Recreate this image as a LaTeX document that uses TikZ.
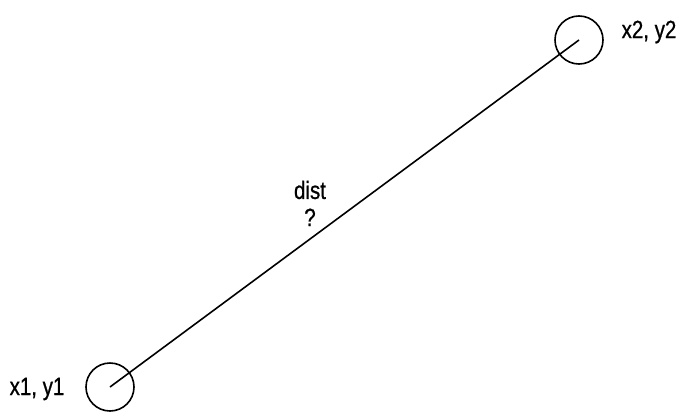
\documentclass[tikz,border=0pt]{standalone}
\usepackage{fontspec}
\setmainfont[FakeStretch=0.82, FakeBold=0.8]{Liberation Sans}
\usepackage{tikz}
\usetikzlibrary{
    positioning,
    calc
}

\begin{document}
\begin{tikzpicture}[
    x=1pt, y=-1pt,
    every node/.style={font=\fontsize{25}{27}\selectfont},
    point/.style={circle, draw, line width=1.6pt, minimum size=48pt, inner sep=0pt},
    label/.style={inner sep=0pt, anchor=center},
    link/.style={line width=1.6pt}
]
\useasboundingbox (0,0) rectangle (684,412);
\node[point] (p1) at (110,387) {};
\node[point] (p2) at (579,40) {};
\node[label] (l1) at (37,389) {x1, y1};
\node[label] (l2) at (649,32) {x2, y2};
\draw[link] (p1.center) -- (p2.center);
\node[label] (dist) at (310,190) {dist};
\node[label, below=9pt of dist] (ask) {?};
\end{tikzpicture}
\end{document}
